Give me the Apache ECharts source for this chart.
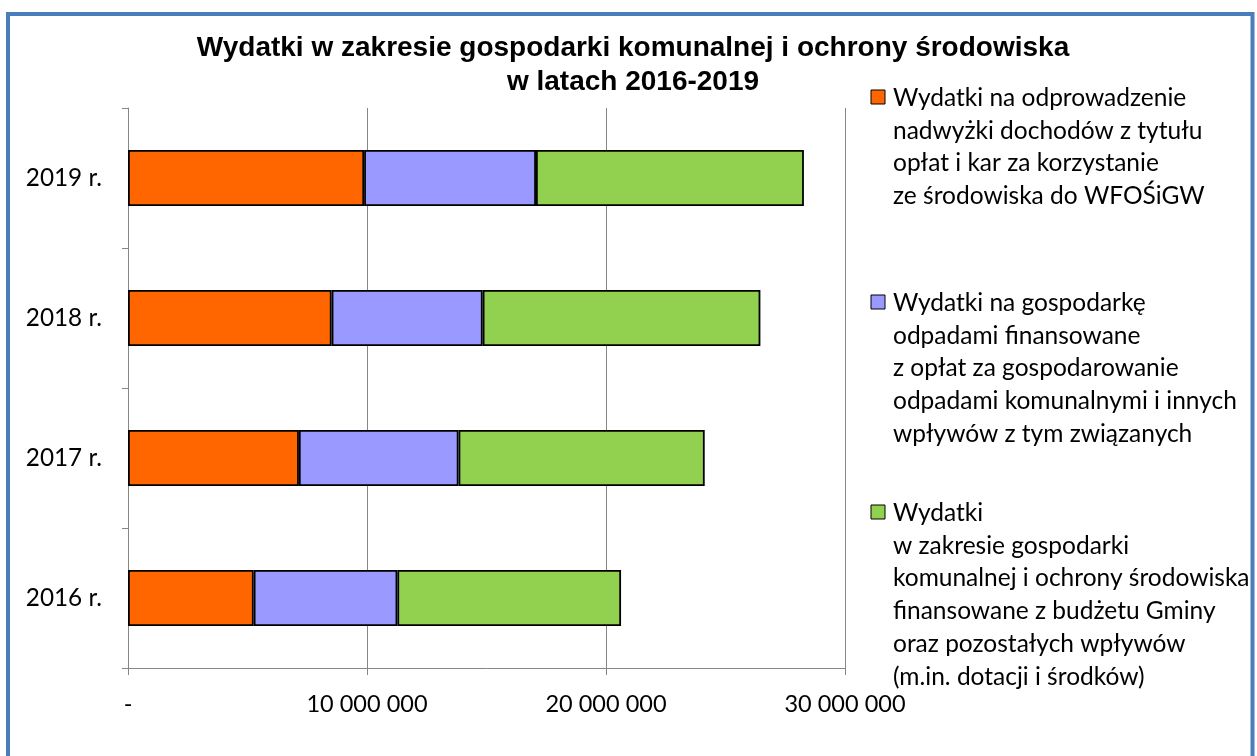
<!DOCTYPE html>
<html>
<head>
<meta charset="utf-8">
<script src="https://cdn.jsdelivr.net/npm/echarts@6/dist/echarts.min.js"></script>
<style>
html,body{margin:0;padding:0;background:#fff;}
#chart{width:1257px;height:756px;}
</style>
</head>
<body>
<div id="chart"></div>
<script>
// ---- data ----
var categories = ['2016 r.', '2017 r.', '2018 r.', '2019 r.'];
var seriesNames = [
  'Wydatki na odprowadzenie nadwyżki dochodów z tytułu opłat i kar za korzystanie ze środowiska do WFOŚiGW',
  'Wydatki na gospodarkę odpadami finansowane z opłat za gospodarowanie odpadami komunalnymi i innych wpływów z tym związanych',
  'Wydatki w zakresie gospodarki komunalnej i ochrony środowiska finansowane z budżetu Gminy oraz pozostałych wpływów (m.in. dotacji i środków)'
];
var wfosigw = [5260000, 7150000, 8520000, 9880000];
var odpady  = [6010000, 6680000, 6320000, 7190000];
var budzet  = [9360000, 10300000, 11620000, 11210000];
var legendLines = [
  ['Wydatki na odprowadzenie', 'nadwyżki dochodów z tytułu', 'opłat i kar za korzystanie', 'ze środowiska do WFOŚiGW'],
  ['Wydatki na gospodarkę', 'odpadami finansowane', 'z opłat za gospodarowanie', 'odpadami komunalnymi i innych', 'wpływów z tym związanych'],
  ['Wydatki', 'w zakresie gospodarki', 'komunalnej i ochrony środowiska', 'finansowane z budżetu Gminy', 'oraz pozostałych wpływów', '(m.in. dotacji i środków)']
];
var titleText = 'Wydatki w zakresie gospodarki komunalnej i ochrony środowiska\nw latach 2016-2019';
var xMax = 30000000, xStep = 10000000;

// ---- styles ----
var colors = ['#ff6600', '#9999ff', '#92d050'];
var legendTops = [81.5, 286.5, 496.5];
var LH = 32.8;
var bodyFont = 'Lato';

function fmt(v) {
  if (v === 0) return '-';
  return String(v).replace(/\B(?=(\d{3})+(?!\d))/g, ' ');
}

var chart = echarts.init(document.getElementById('chart'), null, {renderer: 'canvas'});

var graphics = [{
  type: 'rect', silent: true, z: 100,
  shape: {x: 8, y: 14, width: 1244.5, height: 800},
  style: {fill: 'none', stroke: '#4a7ebb', lineWidth: 4}
}];
legendLines.forEach(function (lines, i) {
  graphics.push({
    type: 'rect', left: 870.5, top: legendTops[i] + 8,
    shape: {x: 0, y: 0, width: 14, height: 14},
    style: {fill: colors[i], stroke: '#000', lineWidth: 1}
  });
  graphics.push({
    type: 'text', left: 893, top: legendTops[i],
    style: {
      text: lines.join('\n'), fill: '#000',
      font: '24.5px ' + bodyFont, lineHeight: LH,
      verticalAlign: 'top'
    }
  });
});

var barSeries = [wfosigw, odpady, budzet].map(function (vals, i) {
  return {
    name: seriesNames[i], type: 'bar', stack: 'total', data: vals,
    barWidth: '40%',
    itemStyle: {color: colors[i], borderColor: '#000', borderWidth: 1.8},
    emphasis: {disabled: true}
  };
});

chart.setOption({
  animation: false,
  title: {
    text: titleText, left: 633, top: 31, textAlign: 'center', padding: 0,
    textStyle: {fontFamily: 'Liberation Sans', fontWeight: 'bold', fontSize: 28, lineHeight: 34, color: '#000'}
  },
  grid: {left: 128, right: 412, top: 108, bottom: 88, containLabel: false},
  xAxis: {
    type: 'value', min: 0, max: xMax, interval: xStep,
    axisLine: {show: true, lineStyle: {color: '#868686', width: 1}},
    axisTick: {show: true, length: 7, lineStyle: {color: '#868686'}},
    splitLine: {show: true, lineStyle: {color: '#868686', width: 1}},
    axisLabel: {formatter: fmt, color: '#000', fontFamily: bodyFont, fontSize: 23.5, margin: 24}
  },
  yAxis: {
    type: 'category', data: categories,
    axisLine: {show: true, lineStyle: {color: '#868686', width: 1}},
    axisTick: {show: true, length: 6, lineStyle: {color: '#868686'}},
    splitLine: {show: false},
    axisLabel: {color: '#000', fontFamily: bodyFont, fontSize: 24.3, margin: 26}
  },
  series: barSeries,
  graphic: graphics
});
</script>
</body>
</html>
